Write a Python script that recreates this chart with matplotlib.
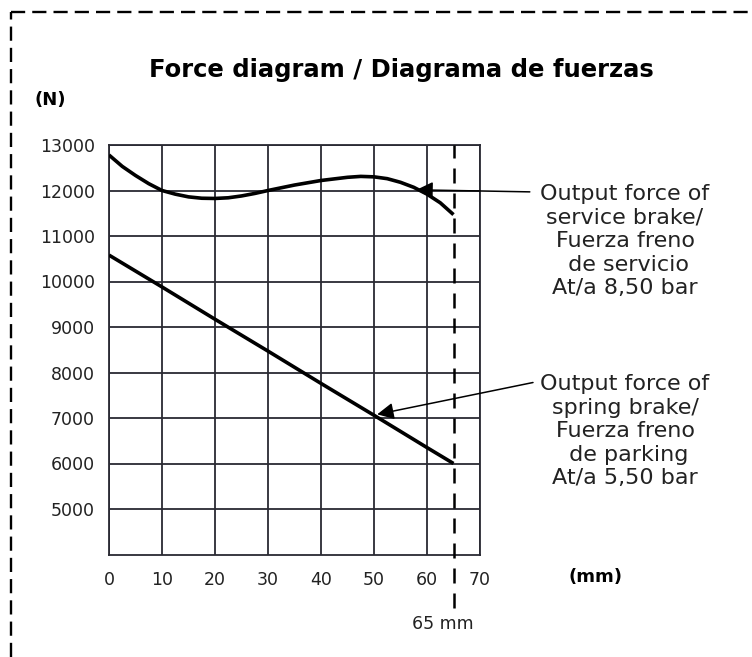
import matplotlib
matplotlib.use("Agg")
import matplotlib.pyplot as plt
from matplotlib.lines import Line2D

# stroke (mm) and force (N)
stroke_service = [0, 2.5, 5, 7.5, 10, 12.5, 15, 17.5, 20, 22.5, 25, 27.5, 30, 35, 40, 45, 47.5,
                  50, 52.5, 55, 57.5, 60, 62.5, 65]
force_service = [12780, 12530, 12330, 12150, 12000, 11920, 11860, 11830, 11825, 11840, 11880,
                 11935, 12000, 12120, 12220, 12290, 12310, 12300, 12260, 12180, 12070, 11920,
                 11730, 11470]

stroke_spring = [0, 10, 20, 30, 40, 50, 60, 65]
force_spring = [10580, 9880, 9170, 8470, 7760, 7060, 6350, 6000]

x_ticks = [0, 10, 20, 30, 40, 50, 60, 70]
y_ticks = [5000, 6000, 7000, 8000, 9000, 10000, 11000, 12000, 13000]
max_stroke = 65

label_service = "Output force of\nservice brake/\nFuerza freno\n de servicio\nAt/a 8,50 bar"
label_spring = "Output force of\nspring brake/\nFuerza freno\n de parking\nAt/a 5,50 bar"

plt.rcParams['font.family'] = ['DejaVu Sans']

fig = plt.figure(figsize=(7.52, 6.57), dpi=100)
ax = fig.add_axes([109 / 752, 102.5 / 657, 371 / 752, 409.5 / 657])

ax.set_xlim(0, 70)
ax.set_ylim(4000, 13000)
ax.set_xticks(x_ticks)
ax.set_yticks(y_ticks)
ax.set_xticklabels([str(v) for v in x_ticks])
ax.set_yticklabels([str(v) for v in y_ticks])
ax.tick_params(length=0, labelsize=12.5, colors='#222222', pad=10)
ax.tick_params(axis='x', pad=12)
ax.grid(True, color='#2a2a33', linewidth=1.3)
for s in ax.spines.values():
    s.set_color('#2a2a33')
    s.set_linewidth(1.3)

# curves
ax.plot(stroke_service, force_service, color='black', linewidth=2.6, solid_capstyle='butt', zorder=3)
ax.plot(stroke_spring, force_spring, color='black', linewidth=2.6, solid_capstyle='butt', zorder=3)

# end of stroke marker
ax.plot([max_stroke, max_stroke], [2820, 13000], color='black', linewidth=1.8,
        dashes=(6, 4), clip_on=False, zorder=4)
ax.text(max_stroke - 2, 2480, "65 mm", ha='center', va='center', fontsize=12.5, color='#222222')

# callouts
ax.annotate("", xy=(58.0, 12015), xytext=(79.4, 11970),
            arrowprops=dict(arrowstyle='-|>', color='black', lw=1.1, mutation_scale=25,
                            shrinkA=0, shrinkB=0), annotation_clip=False)
ax.annotate("", xy=(50.6, 7080), xytext=(80.0, 7780),
            arrowprops=dict(arrowstyle='-|>', color='black', lw=1.1, mutation_scale=25,
                            shrinkA=0, shrinkB=0), annotation_clip=False)
fig.text(625 / 752, 1 - 184 / 657, label_service, ha='center', va='top', fontsize=16,
         linespacing=1.22, multialignment='center', color='#222222')
fig.text(625 / 752, 1 - 374 / 657, label_spring, ha='center', va='top', fontsize=16,
         linespacing=1.22, multialignment='center', color='#222222')

# titles and unit labels
fig.text(401 / 752, 1 - 70 / 657, "Force diagram / Diagrama de fuerzas", ha='center', va='center',
         fontsize=17.5, fontweight='bold')
fig.text(50 / 752, 1 - 100 / 657, "(N)", ha='center', va='center', fontsize=13, fontweight='bold')
fig.text(595 / 752, 1 - 577 / 657, "(mm)", ha='center', va='center', fontsize=13, fontweight='bold')

# dashed frame around the figure
fig.add_artist(Line2D([11 / 752, 1.0], [1 - 12 / 657, 1 - 12 / 657], transform=fig.transFigure,
                      color='black', linewidth=1.7, dashes=(6, 3)))
fig.add_artist(Line2D([11 / 752, 11 / 752], [0.0, 1 - 12 / 657], transform=fig.transFigure,
                      color='black', linewidth=1.7, dashes=(6, 3)))

fig.savefig("out.png", dpi=100)
